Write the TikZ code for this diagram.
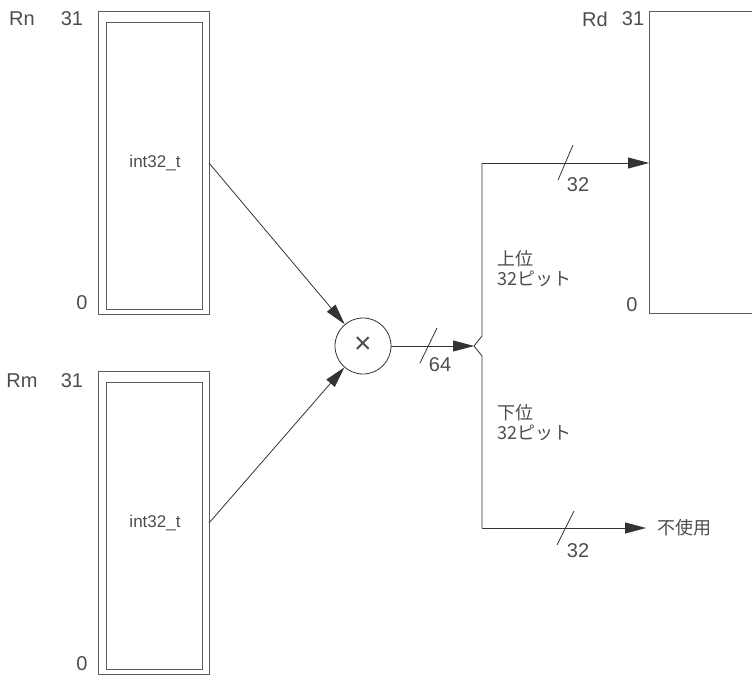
\documentclass[tikz,border=0pt]{standalone}
\usepackage{fontspec}
\setmainfont{Liberation Sans}
\newfontfamily\jp{Noto Sans CJK JP}
\usetikzlibrary{arrows.meta}
\definecolor{txt}{HTML}{4D4D4D}
\definecolor{ln}{HTML}{333333}
\tikzset{
  lbl/.style={text=txt, font=\fontsize{20}{22}\selectfont, inner sep=0pt},
  jlbl/.style={text=txt, font=\jp\fontsize{18}{20}\selectfont, inner sep=0pt, align=left},
  reg/.style={draw=ln!80, line width=0.9pt},
  bus/.style={draw=ln, line width=0.8pt},
  slash/.style={draw=ln, line width=0.8pt}
}
\begin{document}
\begin{tikzpicture}[x=1pt,y=-1pt, >={Triangle[length=21pt,width=11pt]}]
\useasboundingbox (0,0) rectangle (752,679);
% registers Rn, Rm
\draw [reg] (98,11) rectangle (209,314);
\draw [reg] (106,22) rectangle (202,309);
\draw [reg] (98,371) rectangle (209,674);
\draw [reg] (106,382) rectangle (202,669);
\node [lbl] (rn) at (22,19) {Rn};
\node [lbl] (rn31) at (72,19) {31};
\node [lbl] (rn0) at (82,303) {0};
\node [lbl] (rm) at (22,381) {Rm};
\node [lbl] (rm31) at (72,381) {31};
\node [lbl] (rm0) at (82,664) {0};
\node [lbl, font=\fontsize{17}{19}\selectfont] (rnt) at (155,163) {int32\_t};
\node [lbl, font=\fontsize{17}{19}\selectfont] (rmt) at (155,523) {int32\_t};
% register Rd
\draw [reg] (752,11) -- (649,11) -- (649,313) -- (752,313);
\node [lbl] (rd) at (595,19) {Rd};
\node [lbl] (rd31) at (633,19) {31};
\node [lbl] (rd0) at (632,305) {0};
% multiplier
\node [circle, draw=ln, line width=0.8pt, minimum size=56pt, inner sep=0pt] (mul) at (363,346) {};
\node [lbl, font=\fontsize{30}{30}\selectfont] (times) at (363,345) {×};
\coordinate (rnout) at (209,163);
\coordinate (rmout) at (209,523);
\draw [bus, ->] (rnout) -- (mul);
\draw [bus, ->] (rmout) -- (mul);
% 64 bit result and split
\coordinate (fork) at (474,346);
\coordinate (hi) at (482,163);
\coordinate (lo) at (482,528);
\coordinate (rdin) at (649,163);
\coordinate (unused) at (646,528);
\draw [bus, ->] (mul) -- (fork);
\draw [bus] (hi) -- (482,336) -- (fork) -- (482,356) -- (lo);
\draw [bus, ->] (hi) -- (rdin);
\draw [bus, ->] (lo) -- (unused);
\draw [slash] (420,363) -- (437,328);
\draw [slash] (558,180) -- (573,145);
\draw [slash] (557,545) -- (574,511);
\node [lbl] (w64) at (440,365) {64};
\node [lbl] (w32hi) at (578,185) {32};
\node [lbl] (w32lo) at (578,551) {32};
\node [jlbl, anchor=west] (upper) at (497,269) {上位\\32ピット};
\node [jlbl, anchor=west] (lower) at (497,423) {下位\\32ピット};
\node [jlbl, anchor=west] (nouse) at (657,528) {不使用};
\end{tikzpicture}
\end{document}
